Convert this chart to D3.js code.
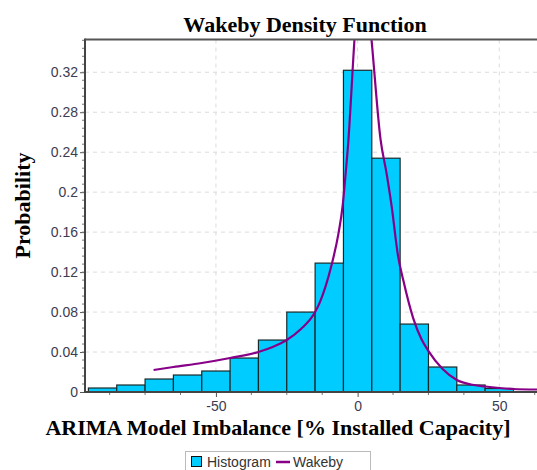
<!DOCTYPE html>
<html>
<head>
<meta charset="utf-8">
<script src="https://cdn.jsdelivr.net/npm/d3@7"></script>
<style>
  body { margin: 0; background: #fff; }
  .tick text { font-family: "Liberation Sans", Arial, sans-serif; font-size: 14px; fill: #3c3c50; }
  .lbl { font-family: "Liberation Serif", "Times New Roman", serif; font-weight: bold; font-size: 22px; fill: #000; }
</style>
</head>
<body>
<div id="chart"></div>
<script>
// histogram bins (left edges) and probabilities
const binStart = [-95, -85, -75, -65, -55, -45, -35, -25, -15, -5, 5, 15, 25, 35, 45];
const binProb = [0.004, 0.007, 0.013, 0.017, 0.021, 0.034, 0.052, 0.080, 0.129, 0.322, 0.234, 0.068, 0.025, 0.007, 0.0035];
const binWidth = 10;

// fitted wakeby density
const curveX = [-72, -65, -55, -45, -35, -30, -25, -20, -15, -13.3, -9.2, -6.8, -5.3, -4.5, -3.3, -1.1, 1.6,
  4.9, 8.1, 10.2, 12, 14.3, 16.1, 19.6, 22.5, 25, 30, 35, 40, 45, 50, 55, 63.5];
const curveY = [0.022, 0.025, 0.029, 0.034, 0.040, 0.045, 0.052, 0.063, 0.080, 0.090, 0.127, 0.158, 0.186, 0.210, 0.250, 0.353, 0.449,
  0.353, 0.2525, 0.219, 0.186, 0.1356, 0.112, 0.074, 0.053, 0.041, 0.023, 0.012, 0.0075, 0.0055, 0.004, 0.003, 0.0025];

const xTicks = [-50, 0, 50];
const xTickLabels = ["-50", "0", "50"];
const yTicks = [0, 0.04, 0.08, 0.12, 0.16, 0.2, 0.24, 0.28, 0.32];
const yTickLabels = ["0", "0.04", "0.08", "0.12", "0.16", "0.2", "0.24", "0.28", "0.32"];

const W = 537, H = 470;
const pL = 85, pR = 537, pT = 39.5, pB = 392;

const svg = d3.select("#chart").append("svg")
  .attr("width", W).attr("height", H);

const x = d3.scaleLinear().domain([-96.2, 63.3]).range([pL, pR]);
const y = d3.scaleLinear().domain([0, 0.3528]).range([pB, pT]);

svg.append("defs").append("clipPath").attr("id", "plot")
  .append("rect").attr("x", pL).attr("y", pT).attr("width", pR - pL).attr("height", pB - pT);

// grid
svg.append("g").selectAll("line").data(yTicks.slice(1)).join("line")
  .attr("x1", pL).attr("x2", pR)
  .attr("y1", d => y(d)).attr("y2", d => y(d))
  .attr("stroke", "#dcdcdc").attr("stroke-dasharray", "4,4");
svg.append("g").selectAll("line").data(xTicks).join("line")
  .attr("x1", d => x(d)).attr("x2", d => x(d))
  .attr("y1", pT).attr("y2", pB)
  .attr("stroke", "#dcdcdc").attr("stroke-dasharray", "4,4");

// bars
svg.append("g").selectAll("rect").data(binStart).join("rect")
  .attr("x", d => x(d))
  .attr("y", (d, i) => y(binProb[i]))
  .attr("width", d => x(d + binWidth) - x(d))
  .attr("height", (d, i) => pB - y(binProb[i]))
  .attr("fill", "#00ccff")
  .attr("stroke", "#1a2a2a")
  .attr("stroke-width", 1.2);

// wakeby curve
const line = d3.line()
  .x(d => x(d[0])).y(d => y(d[1]))
  .curve(d3.curveMonotoneX);
svg.append("path")
  .datum(curveX.map((v, i) => [v, curveY[i]]))
  .attr("clip-path", "url(#plot)")
  .attr("d", line)
  .attr("fill", "none")
  .attr("stroke", "#880088")
  .attr("stroke-width", 2.2);

// axes
const yAxis = svg.append("g")
  .attr("transform", `translate(${pL},0)`)
  .call(d3.axisLeft(y).tickValues(yTicks).tickFormat((d, i) => yTickLabels[i]).tickSize(5).tickPadding(2));
yAxis.select(".domain").remove();
yAxis.selectAll(".tick line").attr("stroke", "#555");
svg.append("g").selectAll("line").data(d3.range(0.008, 0.3528, 0.008)).join("line")
  .attr("x1", pL - 3).attr("x2", pL)
  .attr("y1", d => y(d)).attr("y2", d => y(d))
  .attr("stroke", "#777");

const xAxis = svg.append("g")
  .attr("transform", `translate(0,${pB})`)
  .call(d3.axisBottom(x).tickValues(xTicks).tickFormat((d, i) => xTickLabels[i]).tickSize(5).tickPadding(4));
xAxis.select(".domain").remove();
xAxis.selectAll(".tick line").attr("stroke", "#555");
svg.append("g").selectAll("line").data(d3.range(-87.5, 63.3, 12.5).filter(d => d % 50 !== 0)).join("line")
  .attr("x1", d => x(d)).attr("x2", d => x(d))
  .attr("y1", pB).attr("y2", pB + 3)
  .attr("stroke", "#777");

// frame
svg.append("line").attr("x1", pL).attr("x2", pL).attr("y1", pT - 1).attr("y2", pB + 1)
  .attr("stroke", "#444").attr("stroke-width", 2);
svg.append("line").attr("x1", pL).attr("x2", pR).attr("y1", pB).attr("y2", pB)
  .attr("stroke", "#444").attr("stroke-width", 2);
svg.append("line").attr("x1", pL).attr("x2", pR).attr("y1", pT).attr("y2", pT)
  .attr("stroke", "#555").attr("stroke-width", 2);

// labels
svg.append("text").attr("class", "lbl").attr("x", 305).attr("y", 32)
  .attr("text-anchor", "middle").text("Wakeby Density Function");
svg.append("text").attr("class", "lbl").attr("x", 278).attr("y", 435)
  .attr("text-anchor", "middle").text("ARIMA Model Imbalance [% Installed Capacity]");
svg.append("text").attr("class", "lbl")
  .attr("transform", "translate(30,205.5) rotate(-90)")
  .attr("text-anchor", "middle").text("Probability");

// legend
const lg = svg.append("g");
lg.append("rect").attr("x", 185.5).attr("y", 451.5).attr("width", 185).attr("height", 24)
  .attr("fill", "#fff").attr("stroke", "#bbb");
lg.append("rect").attr("x", 191.5).attr("y", 456.5).attr("width", 10).attr("height", 10)
  .attr("fill", "#00ccff").attr("stroke", "#111");
lg.append("text").attr("x", 207).attr("y", 467)
  .style("font-family", "'Liberation Sans', Arial, sans-serif").style("font-size", "14px").attr("fill", "#333")
  .text("Histogram");
lg.append("line").attr("x1", 276).attr("x2", 290).attr("y1", 462).attr("y2", 462)
  .attr("stroke", "#880088").attr("stroke-width", 2.5);
lg.append("text").attr("x", 293).attr("y", 467)
  .style("font-family", "'Liberation Sans', Arial, sans-serif").style("font-size", "14px").attr("fill", "#333")
  .text("Wakeby");
</script>
</body>
</html>
